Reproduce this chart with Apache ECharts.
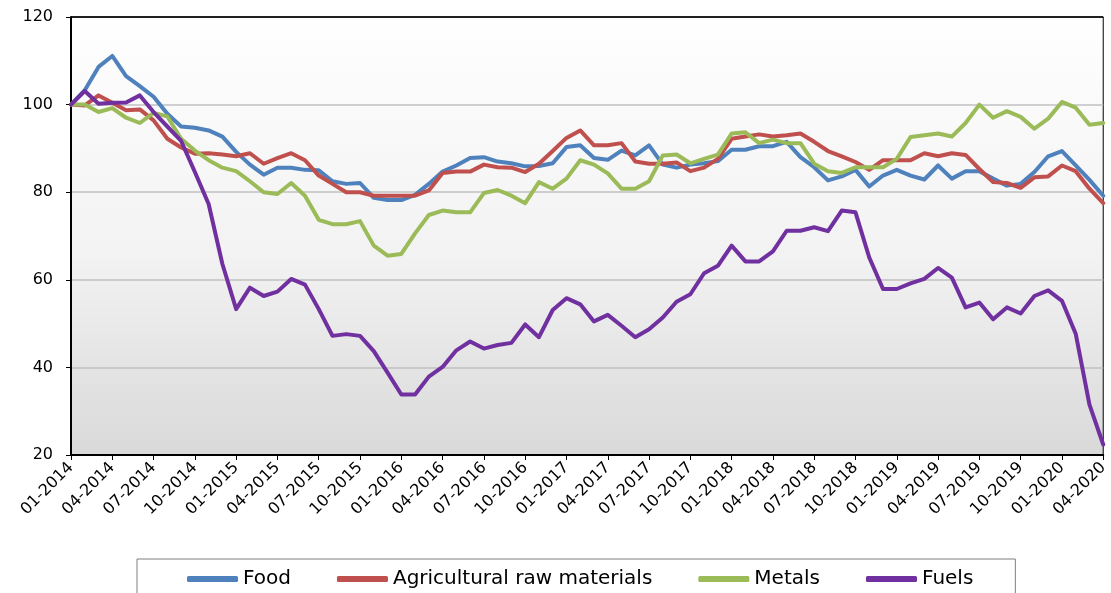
<!DOCTYPE html>
<html>
<head>
<meta charset="utf-8">
<script src="https://cdn.jsdelivr.net/npm/echarts@6/dist/echarts.min.js"></script>
<style>html,body{margin:0;padding:0;background:#fff}#c{width:1111px;height:593px}</style>
</head>
<body>
<div id="c"></div>
<script>
const years = ['2014','2015','2016','2017','2018','2019','2020'];
const monthNums = ['01','02','03','04','05','06','07','08','09','10','11','12'];
const categories = [];
years.forEach(y => monthNums.forEach(m => { if (!(y === '2020' && +m > 4)) categories.push(m + '-' + y); }));

const seriesNames = ['Food', 'Agricultural raw materials', 'Metals', 'Fuels'];
const food = [100,103.3,108.6,111.1,106.5,104.2,101.8,97.9,95,94.7,
  94.1,92.7,89.2,86.3,84,85.6,85.6,85.1,85,82.5,
  81.9,82.1,78.7,78.2,78.2,79.4,81.9,84.7,86.1,87.8,
  88,87,86.6,85.9,86,86.6,90.3,90.7,87.8,87.4,
  89.5,88.4,90.7,86.3,85.6,86.3,86.6,87.1,89.7,89.7,
  90.5,90.5,91.5,88,85.7,82.7,83.6,85.1,81.3,83.8,
  85.1,83.8,82.9,86.1,83.1,84.8,84.8,83.1,81.5,81.9,
  84.6,88.2,89.4,86.1,82.8,79.2];
const agri = [100,99.8,102.1,100.4,98.7,98.9,96.4,92.2,90.2,88.8,
  88.9,88.6,88.2,88.9,86.5,87.8,88.9,87.3,83.8,81.9,
  80,80,79.2,79.2,79.2,79.2,80.4,84.4,84.7,84.7,
  86.3,85.7,85.6,84.6,86.5,89.4,92.4,94.1,90.7,90.7,
  91.2,87,86.5,86.5,86.8,84.8,85.6,87.6,92.2,92.7,
  93.2,92.7,93,93.4,91.5,89.4,88.2,86.9,85.1,87.3,
  87.3,87.3,88.9,88.2,88.9,88.5,85.3,82.3,82.1,81,
  83.4,83.6,86.1,84.8,80.8,77.5];
const metals = [100,100,98.3,99.2,97,95.8,98.1,97.3,92.2,89.5,
  87.3,85.6,84.8,82.5,80,79.6,82.1,79.2,73.7,72.7,
  72.7,73.4,67.8,65.5,65.9,70.6,74.8,75.8,75.4,75.4,
  79.8,80.5,79.2,77.5,82.3,80.8,83.1,87.3,86.3,84.3,
  80.8,80.8,82.5,88.4,88.6,86.6,87.6,88.6,93.4,93.7,
  91.2,92,91.2,91.2,86.5,84.8,84.4,85.7,85.7,85.7,
  87.6,92.6,93,93.4,92.7,95.8,100,97,98.5,97.2,
  94.5,96.8,100.6,99.3,95.4,95.8];
const fuels = [100,103.1,100.2,100.4,100.5,102.1,98.3,95,91.7,84.6,
  77.3,63.6,53.3,58.2,56.3,57.3,60.2,58.9,53.3,47.2,
  47.6,47.2,43.7,38.8,33.8,33.8,37.9,40.1,43.9,45.9,
  44.3,45.1,45.6,49.8,46.9,53.1,55.8,54.4,50.5,52,
  49.5,46.9,48.7,51.4,55,56.7,61.5,63.2,67.8,64.2,
  64.2,66.5,71.2,71.2,72,71.1,75.8,75.4,65.1,57.9,
  57.9,59.2,60.2,62.7,60.5,53.7,54.8,51,53.7,52.3,
  56.3,57.6,55.2,47.7,31.5,22.4];
const yTicks = [20, 40, 60, 80, 100, 120];

const colors = ['#4F81BD', '#C0504D', '#9BBB59', '#7030A0'];
const dataSets = [food, agri, metals, fuels];
const FONT = 'DejaVu Sans';

const chart = echarts.init(document.getElementById('c'), null, {renderer: 'canvas'});
chart.setOption({
  animation: false,
  color: colors,
  grid: {
    left: 71, right: 5, top: 17, bottom: 138,
    show: true,
    borderColor: '#000', borderWidth: 1,
    backgroundColor: new echarts.graphic.LinearGradient(0, 0, 0, 1, [
      {offset: 0, color: '#ffffff'},
      {offset: 0.55, color: '#f2f2f2'},
      {offset: 1, color: '#d9d9d9'}
    ])
  },
  legend: {
    left: 137, top: 559,
    padding: [10, 42, 12, 50],
    itemGap: 46,
    itemWidth: 51, itemHeight: 6,
    icon: 'roundRect',
    borderColor: '#7f7f7f', borderWidth: 1,
    textStyle: {fontFamily: FONT, fontSize: 20, color: '#000'},
    data: seriesNames
  },
  xAxis: {
    type: 'category',
    data: categories,
    boundaryGap: false,
    axisLine: {lineStyle: {color: '#000', width: 2}},
    axisTick: {interval: 2, length: 5, lineStyle: {color: '#000', width: 1}},
    axisLabel: {interval: 2, rotate: 45, margin: 10, fontFamily: FONT, fontSize: 16, color: '#000'},
    splitLine: {show: false}
  },
  yAxis: {
    type: 'value',
    min: yTicks[0], max: yTicks[yTicks.length - 1], interval: 20,
    axisLine: {show: true, lineStyle: {color: '#000', width: 2}},
    axisTick: {show: true, length: 5, lineStyle: {color: '#000'}},
    axisLabel: {margin: 18, fontFamily: FONT, fontSize: 16, color: '#000'},
    splitLine: {show: true, lineStyle: {color: ['#000', '#c0c0c0', '#c0c0c0', '#c0c0c0', '#c0c0c0', '#000'], width: 1.5}}
  },
  series: seriesNames.map((n, k) => ({
    name: n,
    type: 'line',
    data: dataSets[k],
    symbol: 'none',
    lineStyle: {width: 4, color: colors[k], join: 'round', cap: 'round'},
    itemStyle: {color: colors[k]}
  }))
});
</script>
</body>
</html>
